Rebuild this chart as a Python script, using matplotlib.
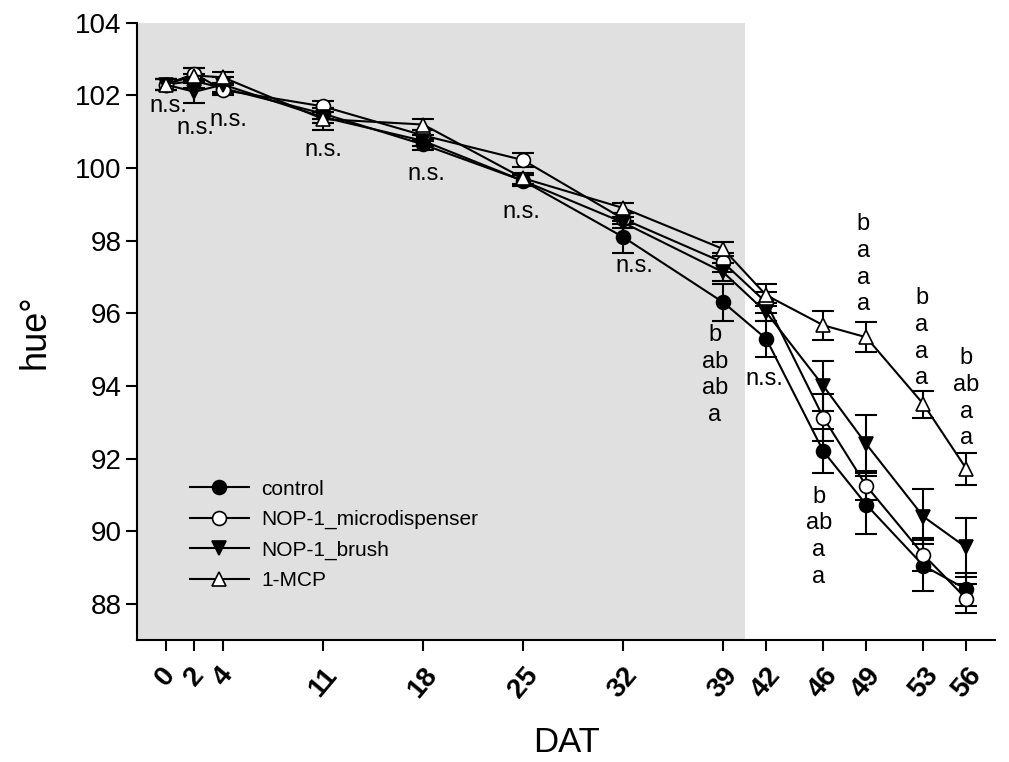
import numpy as np
import matplotlib
matplotlib.use("Agg")
import matplotlib.pyplot as plt

plt.rcParams["font.family"] = ["Liberation Sans", "DejaVu Sans"]

days = [0, 2, 4, 11, 18, 25, 32, 39, 42, 46, 49, 53, 56]

control = [102.3, 102.4, 102.2, 101.5, 100.65, 99.65, 98.1, 96.3, 95.3, 92.2, 90.73, 89.05, 88.4]
control_se = [0.15, 0.2, 0.15, 0.15, 0.15, 0.15, 0.45, 0.5, 0.5, 0.6, 0.8, 0.7, 0.45]
micro = [102.3, 102.6, 102.15, 101.7, 100.9, 100.22, 98.6, 97.4, 96.3, 93.13, 91.25, 89.35, 88.14]
micro_se = [0.15, 0.15, 0.15, 0.15, 0.15, 0.2, 0.15, 0.25, 0.3, 0.65, 0.4, 0.45, 0.4]
brush = [102.3, 102.1, 102.3, 101.4, 100.75, 99.65, 98.5, 97.13, 96.03, 94.0, 92.4, 90.4, 89.55]
brush_se = [0.15, 0.3, 0.2, 0.15, 0.15, 0.15, 0.15, 0.25, 0.25, 0.7, 0.8, 0.75, 0.8]
mcp = [102.3, 102.55, 102.5, 101.35, 101.2, 99.72, 98.9, 97.77, 96.5, 95.67, 95.34, 93.5, 91.72]
mcp_se = [0.15, 0.2, 0.15, 0.3, 0.15, 0.15, 0.15, 0.2, 0.3, 0.4, 0.41, 0.37, 0.44]

# significance labels
ns_labels = [(0.2, 101.7), (2.05, 101.1), (4.4, 101.32), (11.0, 100.5),
             (18.2, 99.85), (24.9, 98.8), (32.8, 97.3), (41.9, 94.2)]
letter_groups = [
    (38.4, 95.4, ["b", "ab", "ab", "a"]),
    (45.7, 90.95, ["b", "ab", "a", "a"]),
    (48.8, 98.45, ["b", "a", "a", "a"]),
    (52.9, 96.41, ["b", "a", "a", "a"]),
    (56.0, 94.76, ["b", "ab", "a", "a"]),
]

fig = plt.figure(figsize=(10.09, 7.62), dpi=100)
ax = fig.add_axes([0.136, 0.160, 0.850, 0.810])
ax.axvspan(-2, 40.5, color="#e0e0e0", zorder=0, lw=0)

series = [
    ("control", control, control_se, "o", "black"),
    ("NOP-1_microdispenser", micro, micro_se, "o", "white"),
    ("NOP-1_brush", brush, brush_se, "v", "black"),
    ("1-MCP", mcp, mcp_se, "^", "white"),
]
handles = []
for name, vals, se, mk, fc in series:
    ax.errorbar(days, vals, yerr=se, fmt="none", ecolor="black", elinewidth=1.5,
                capsize=8, capthick=1.5, zorder=2)
    h, = ax.plot(days, vals, color="black", lw=1.5, marker=mk, markersize=10,
                 markerfacecolor=fc, markeredgecolor="black", markeredgewidth=1.2,
                 label=name, zorder=3)
    handles.append(h)

for x, y in ns_labels:
    ax.text(x, y, "n.s.", ha="center", va="center", fontsize=17)
for x, y, labs in letter_groups:
    for i, t in enumerate(labs):
        ax.text(x, y - i * 0.735, t, ha="center", va="center", fontsize=17)

ax.set_xlim(-2, 58)
ax.set_ylim(87, 104)
ax.set_xticks(days)
ax.set_xticklabels([str(d) for d in days], rotation=50, ha="center", fontsize=20,
                   fontweight="bold")
ax.set_yticks(np.arange(88, 105, 2))
ax.tick_params(axis="y", labelsize=20, length=8, width=1.5)
ax.tick_params(axis="x", length=8, width=1.5, pad=8)
for s in ["top", "right"]:
    ax.spines[s].set_visible(False)
for s in ["left", "bottom"]:
    ax.spines[s].set_linewidth(1.5)

ax.set_xlabel("DAT", fontsize=25, labelpad=17)
ax.set_ylabel("hue°", fontsize=26, labelpad=16)

ax.legend(handles=handles, loc="lower left", bbox_to_anchor=(0.04, 0.05),
          frameon=False, fontsize=15, handlelength=2.8, labelspacing=0.55,
          handletextpad=0.6)

fig.savefig("out.png", dpi=100)
